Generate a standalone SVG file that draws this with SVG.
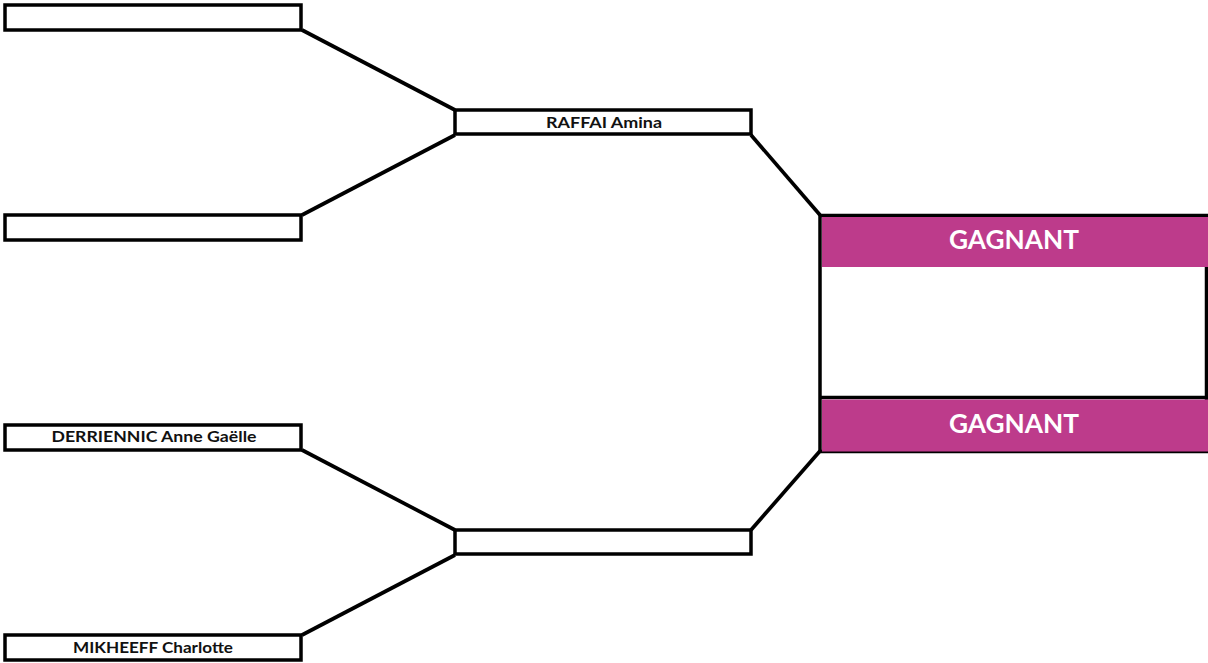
<svg xmlns="http://www.w3.org/2000/svg" width="1208" height="663" viewBox="0 0 1208 663">
<style>
.box{fill:#fff;stroke:#000;stroke-width:3.5}
.lbl{font-family:Lato,"Open Sans","Liberation Sans",sans-serif;font-weight:bold;font-size:14.5px;fill:#111;text-anchor:middle}
.win{font-family:Lato,"Open Sans","Liberation Sans",sans-serif;font-weight:bold;font-size:26px;fill:#fff;text-anchor:middle}
.band{fill:#bd3b8b}
.conn line{stroke:#000;stroke-width:3.7;stroke-linecap:butt}
</style>
<rect width="1208" height="663" fill="#fff"/>
<g class="conn" id="connectors">
<line x1="302" y1="30" x2="455" y2="110"/>
<line x1="302" y1="215" x2="455" y2="135"/>
<line x1="751" y1="135" x2="820" y2="215"/>
<line x1="302" y1="450" x2="455" y2="530"/>
<line x1="302" y1="635" x2="455" y2="555"/>
<line x1="751" y1="530" x2="820" y2="451"/>
</g>
<g id="r1a"><rect class="box" x="5" y="5" width="296" height="25"/></g>
<g id="r1b"><rect class="box" x="5" y="215" width="296" height="25"/></g>
<g id="r1c"><rect class="box" x="5" y="425" width="296" height="25"/><text class="lbl" x="154" y="442" textLength="205" lengthAdjust="spacingAndGlyphs">DERRIENNIC Anne Gaëlle</text></g>
<g id="r1d"><rect class="box" x="5" y="635" width="296" height="25"/><text class="lbl" x="153" y="653" textLength="160" lengthAdjust="spacingAndGlyphs">MIKHEEFF Charlotte</text></g>
<g id="r2a"><rect class="box" x="455" y="110" width="296" height="24"/><text class="lbl" x="604" y="128" textLength="116" lengthAdjust="spacingAndGlyphs">RAFFAI Amina</text></g>
<g id="r2b"><rect class="box" x="455" y="530" width="296" height="24"/></g>
<g id="winner">
<rect x="820" y="215.5" width="386.5" height="236" fill="#fff" stroke="#000" stroke-width="3.5"/>
<rect class="band" x="822" y="217" width="386" height="50"/>
<line x1="820" y1="397.5" x2="1208" y2="397.5" stroke="#000" stroke-width="3.5"/>
<rect class="band" x="822" y="399.5" width="386" height="52"/>
<text class="win" x="1014" y="249" textLength="130" lengthAdjust="spacingAndGlyphs">GAGNANT</text>
<text class="win" x="1014" y="433" textLength="130" lengthAdjust="spacingAndGlyphs">GAGNANT</text>
</g>
</svg>
